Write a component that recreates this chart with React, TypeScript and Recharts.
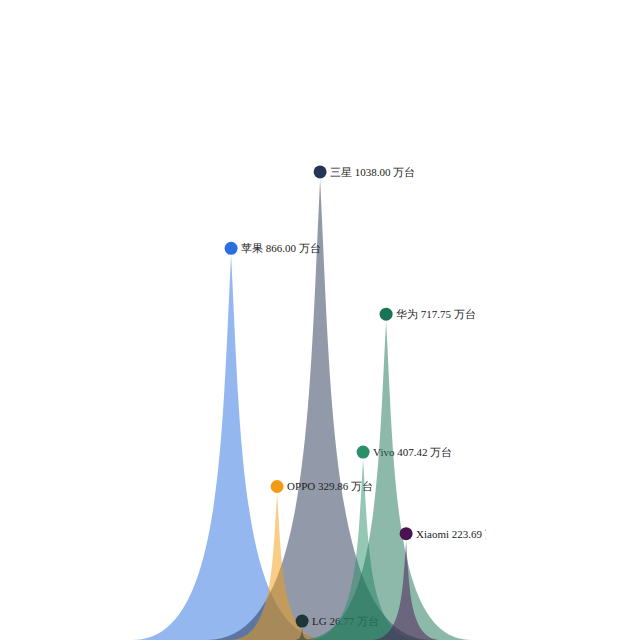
import React from "react";
import { Bar, BarChart, XAxis, YAxis } from "recharts";

// listed in drawing order (later ones sit on top)
const brands = ["苹果", "三星", "OPPO", "LG", "Vivo", "华为", "Xiaomi"];
const sales = [866, 1038, 329.86, 26.77, 407.42, 717.75, 223.69];
// horizontal slot of each spike (0-64 scale)
const slots = [23.1, 32.0, 27.7, 30.2, 36.3, 38.6, 40.6];
const colors = ["#2a6fe0", "#253553", "#f39b12", "#1d3636", "#2b8f6a", "#1b7356", "#4a1352"];
const unit = "万台";

const data = brands.map((name, i) => ({
  name,
  value: sales[i],
  slot: slots[i],
}));

// spike half-width grows with value
const halfWidth = (v: number) => 0.617 * Math.pow(v, 0.75);

function Spike(props: any) {
  const { x, y, width, height, index } = props;
  const cx = x + width / 2;
  const hw = halfWidth(sales[index]);
  const l = cx - hw;
  const r = cx + hw;
  const b = y + height;
  const sx = (hw * 2) / 10;
  const sy = (b - y) / 10;
  // path://M0,10 L10,10 C5.5,10 5.5,5 5,0 C4.5,5 4.5,10 0,10 z
  const d = `M${l},${b} L${r},${b} C${l + 5.5 * sx},${b} ${l + 5.5 * sx},${y + 5 * sy} ${cx},${y} C${l + 4.5 * sx},${y + 5 * sy} ${l + 4.5 * sx},${b} ${l},${b} Z`;
  const cy = y - 7;
  return (
    <g>
      <path d={d} fill={colors[index]} fillOpacity={0.5} />
      <g clipPath="url(#labelClip)">
        <circle cx={cx} cy={cy} r={6.5} fill={colors[index]} />
        <text x={cx + 10} y={cy + 4} fontSize={11} fill="#222" fontFamily="'Liberation Serif', serif">
          {`${brands[index]} ${sales[index].toFixed(2)} ${unit}`}
        </text>
      </g>
    </g>
  );
}

export default function App() {
  return (
    <div style={{ position: "fixed", left: 0, top: 0, width: 640, height: 640, background: "#fff" }}>
      <BarChart width={640} height={640} data={data} margin={{ top: 107, right: 0, bottom: 0, left: 0 }}>
        <defs>
          <clipPath id="labelClip">
            <rect x={0} y={0} width={486} height={640} />
          </clipPath>
        </defs>
        <XAxis type="number" dataKey="slot" domain={[0, 64]} hide />
        <YAxis type="number" domain={[0, 1200]} hide />
        <Bar dataKey="value" barSize={20} shape={Spike} isAnimationActive={false} />
      </BarChart>
    </div>
  );
}
